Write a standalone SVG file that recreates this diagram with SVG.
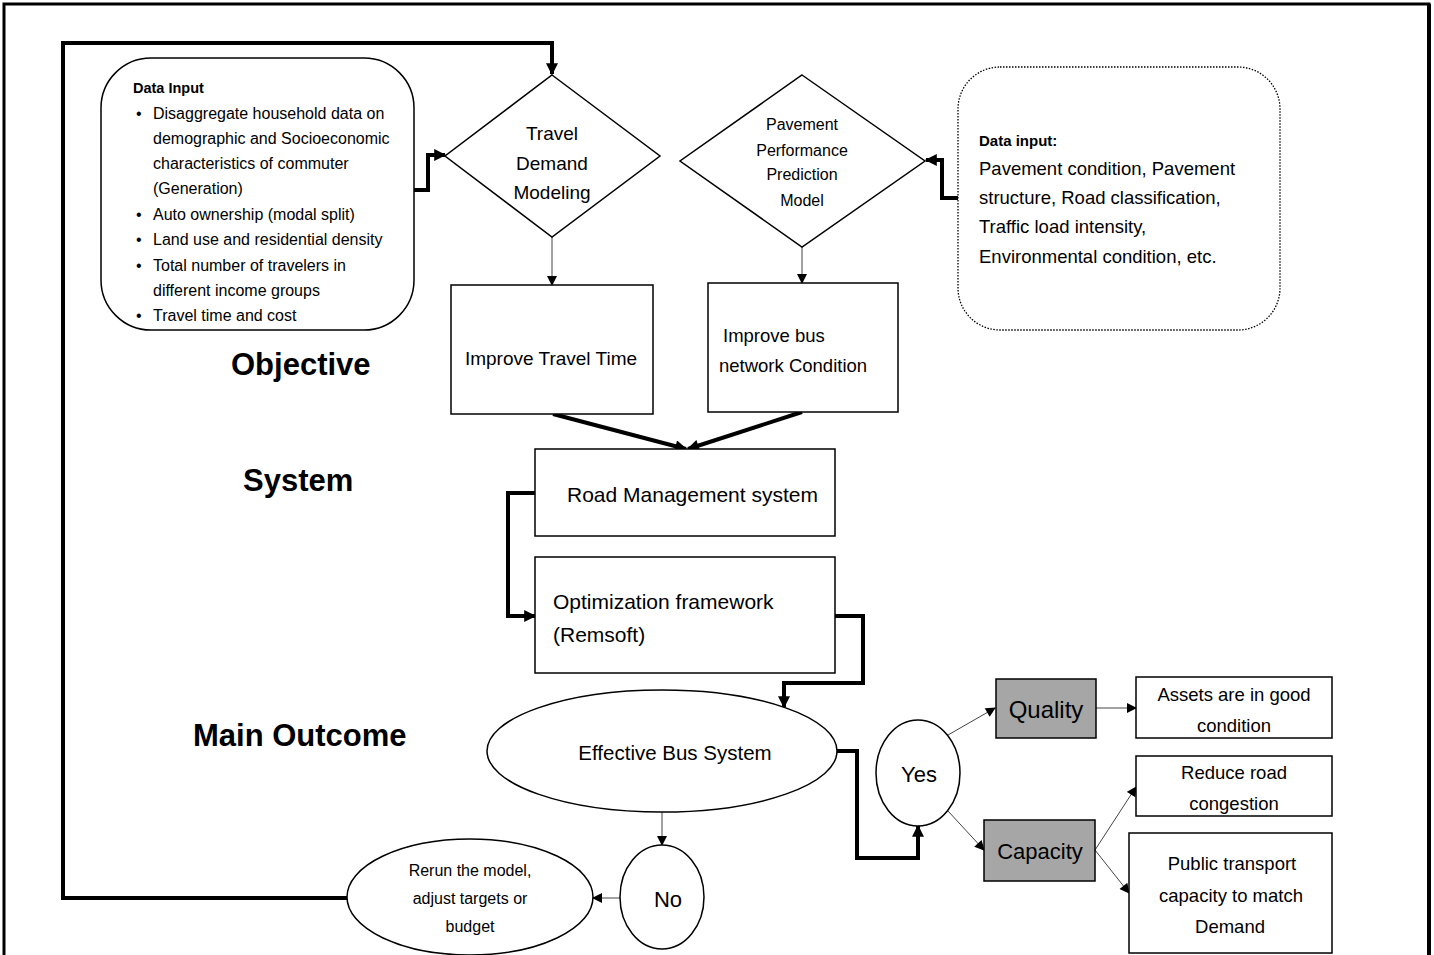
<svg xmlns="http://www.w3.org/2000/svg" width="1434" height="955" viewBox="0 0 1434 955">
<defs>
<style>
text{font-family:"Liberation Sans",Arial,sans-serif;fill:#000}
.n{fill:#fff;stroke:#000;stroke-width:1.5}
.g{fill:#a6a6a6;stroke:#000;stroke-width:1.5}
.thick{fill:none;stroke:#000;stroke-width:4}
.thin{fill:none;stroke:#444;stroke-width:1}
.big{font-weight:bold;font-size:31px}
.c{text-anchor:middle}
</style>
<marker id="ah" markerUnits="userSpaceOnUse" viewBox="0 0 10 10" refX="9" refY="5" markerWidth="13" markerHeight="12" orient="auto"><path d="M0,0 L10,5 L0,10 z" fill="#000"/></marker>
<marker id="as" markerUnits="userSpaceOnUse" viewBox="0 0 10 10" refX="9" refY="5" markerWidth="11" markerHeight="10" orient="auto"><path d="M0,0 L10,5 L0,10 z" fill="#000"/></marker>
</defs>
<rect x="4" y="4" width="1425" height="970" fill="#fff" stroke="#000" stroke-width="3"/>
<line x1="1429" y1="4" x2="1429" y2="960" stroke="#000" stroke-width="4"/>

<g id="labels">
<text class="big" x="231" y="375">Objective</text>
<text class="big" x="243" y="491">System</text>
<text class="big" x="193" y="746">Main Outcome</text>
</g>

<g id="connectors">
<polyline class="thick" points="347,898 63,898 63,43 552,43 552,74" marker-end="url(#ah)"/>
<polyline class="thick" points="414,190 428,190 428,155 445,155" marker-end="url(#ah)"/>
<polyline class="thick" points="958,198 942,198 942,160 926,160" marker-end="url(#ah)"/>
<line class="thin" x1="552" y1="237" x2="552" y2="285" marker-end="url(#as)"/>
<line class="thin" x1="802" y1="247" x2="802" y2="283" marker-end="url(#as)"/>
<line class="thick" stroke-width="3.5" x1="553" y1="414" x2="686" y2="449" marker-end="url(#ah)"/>
<line class="thick" stroke-width="3.5" x1="802" y1="412" x2="688" y2="449" marker-end="url(#ah)"/>
<polyline class="thick" stroke-width="3" points="535,493 508,493 508,616 535,616" marker-end="url(#ah)"/>
<polyline class="thick" stroke-width="3" points="835,616 863,616 863,683 784,683 784,707" marker-end="url(#ah)"/>
<polyline class="thick" stroke-width="3" points="837,751 857,751 857,858 918,858 918,826" marker-end="url(#ah)"/>
<line class="thin" x1="662" y1="812" x2="662" y2="845" marker-end="url(#as)"/>
<line class="thin" x1="620" y1="898" x2="593" y2="898" marker-end="url(#as)"/>
<line class="thin" x1="948" y1="735" x2="995" y2="708" marker-end="url(#as)"/>
<line class="thin" x1="948" y1="811" x2="984" y2="850" marker-end="url(#as)"/>
<line class="thin" x1="1096" y1="708" x2="1136" y2="708" marker-end="url(#as)"/>
<line class="thin" x1="1095" y1="850" x2="1136" y2="787" marker-end="url(#as)"/>
<line class="thin" x1="1095" y1="850" x2="1129" y2="893" marker-end="url(#as)"/>
</g>

<g id="data-input">
<rect class="n" x="101" y="58" width="313" height="272" rx="50" ry="50"/>
<text x="133" y="93" font-size="14.5" font-weight="bold">Data Input</text>
<g font-size="16">
<text x="136" y="119">•</text><text x="153" y="119">Disaggregate household data on</text>
<text x="153" y="144">demographic and Socioeconomic</text>
<text x="153" y="169">characteristics of commuter</text>
<text x="153" y="194">(Generation)</text>
<text x="136" y="220">•</text><text x="153" y="220">Auto ownership (modal split)</text>
<text x="136" y="245">•</text><text x="153" y="245">Land use and residential density</text>
<text x="136" y="271">•</text><text x="153" y="271">Total number of travelers in</text>
<text x="153" y="296">different income groups</text>
<text x="136" y="321">•</text><text x="153" y="321">Travel time and cost</text>
</g>
</g>

<g id="travel-demand">
<polygon class="n" points="552,75 660,156 552,237 445,156"/>
<text class="c" x="552" y="140" font-size="19">Travel</text>
<text class="c" x="552" y="170" font-size="19">Demand</text>
<text class="c" x="552" y="199" font-size="19">Modeling</text>
</g>

<g id="pavement-model">
<polygon class="n" points="802,75 925,161 802,247 680,161"/>
<text class="c" x="802" y="130" font-size="16">Pavement</text>
<text class="c" x="802" y="156" font-size="16">Performance</text>
<text class="c" x="802" y="180" font-size="16">Prediction</text>
<text class="c" x="802" y="206" font-size="16">Model</text>
</g>

<g id="pavement-data">
<rect x="958" y="67" width="322" height="263" rx="42" ry="42" fill="#fff" stroke="#000" stroke-width="1.3" stroke-dasharray="1.5,1.5"/>
<text x="979" y="146" font-size="15" font-weight="bold">Data input:</text>
<g font-size="18.5">
<text x="979" y="175">Pavement condition, Pavement</text>
<text x="979" y="204">structure, Road classification,</text>
<text x="979" y="233">Traffic load intensity,</text>
<text x="979" y="263">Environmental condition, etc.</text>
</g>
</g>

<g id="improve-travel">
<rect class="n" x="451" y="285" width="202" height="129"/>
<text class="c" x="551" y="365" font-size="19">Improve Travel Time</text>
</g>

<g id="improve-bus">
<rect class="n" x="708" y="283" width="190" height="129"/>
<text x="723" y="342" font-size="18.5">Improve bus</text>
<text x="719" y="372" font-size="18.5">network Condition</text>
</g>

<g id="road-mgmt">
<rect class="n" x="535" y="449" width="300" height="87"/>
<text x="567" y="502" font-size="21">Road Management system</text>
</g>

<g id="optimization">
<rect class="n" x="535" y="557" width="300" height="116"/>
<text x="553" y="609" font-size="21">Optimization framework</text>
<text x="553" y="642" font-size="21">(Remsoft)</text>
</g>

<g id="effective-bus">
<ellipse class="n" cx="662" cy="751" rx="175" ry="61"/>
<text class="c" x="675" y="760" font-size="20.5">Effective Bus System</text>
</g>

<g id="yes">
<ellipse class="n" cx="918" cy="773" rx="42" ry="53"/>
<text class="c" x="919" y="782" font-size="22">Yes</text>
</g>

<g id="no">
<ellipse class="n" cx="662" cy="897" rx="42" ry="52"/>
<text class="c" x="668" y="907" font-size="22">No</text>
</g>

<g id="rerun">
<ellipse class="n" cx="470" cy="897" rx="123" ry="58"/>
<text class="c" x="470" y="876" font-size="16">Rerun the model,</text>
<text class="c" x="470" y="904" font-size="16">adjust targets or</text>
<text class="c" x="470" y="932" font-size="16">budget</text>
</g>

<g id="quality">
<rect class="g" x="996" y="679" width="100" height="59"/>
<text class="c" x="1046" y="718" font-size="24">Quality</text>
</g>

<g id="capacity">
<rect class="g" x="984" y="820" width="111" height="61"/>
<text class="c" x="1040" y="859" font-size="22">Capacity</text>
</g>

<g id="assets">
<rect class="n" x="1136" y="677" width="196" height="61"/>
<text class="c" x="1234" y="701" font-size="18.5">Assets are in good</text>
<text class="c" x="1234" y="732" font-size="18.5">condition</text>
</g>

<g id="reduce">
<rect class="n" x="1136" y="756" width="196" height="60"/>
<text class="c" x="1234" y="779" font-size="18.5">Reduce road</text>
<text class="c" x="1234" y="810" font-size="18.5">congestion</text>
</g>

<g id="public">
<rect class="n" x="1129" y="833" width="203" height="120"/>
<text class="c" x="1232" y="870" font-size="18.5">Public transport</text>
<text class="c" x="1231" y="902" font-size="18.5">capacity to match</text>
<text class="c" x="1230" y="933" font-size="18.5">Demand</text>
</g>
</svg>
